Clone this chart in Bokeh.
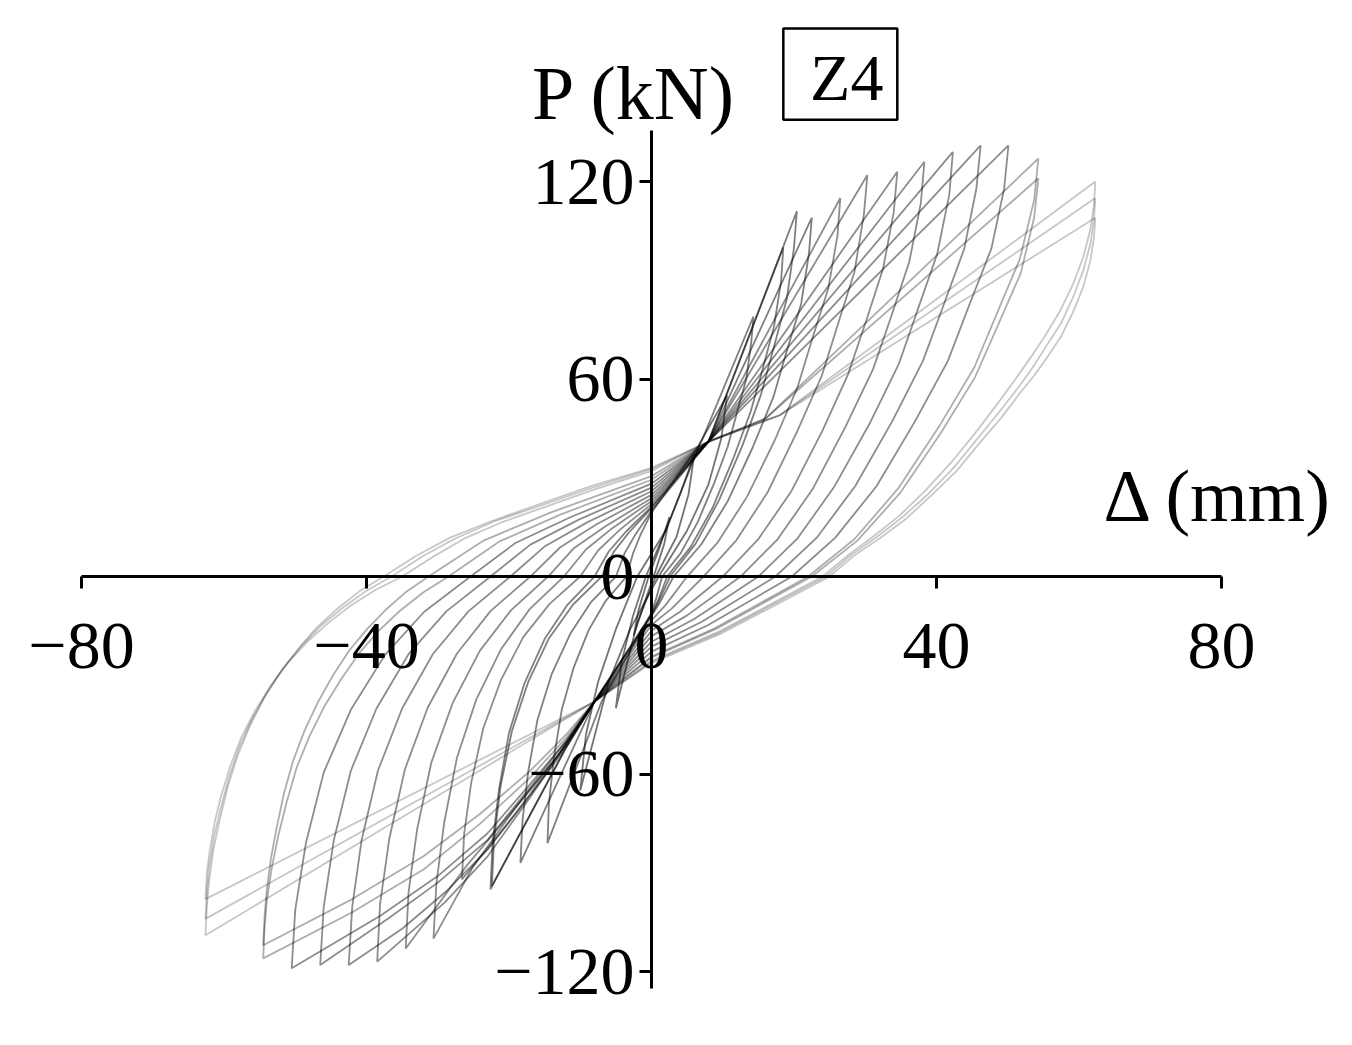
from bokeh.plotting import figure
from bokeh.models import FixedTicker, Label, BoxAnnotation, Range1d, ColumnDataSource
from bokeh.embed import file_html
from bokeh.resources import INLINE

# ---------------- data: hysteresis loops, displacement (mm) / load (kN) ----------------
loop_01_x = [2.5, 1.8, 0.3, -1.0, -2.5, -1.8, -0.4, 1.0, 2.5]
loop_01_p = [18, 10, 0, -8, -18, -10, 0, 8, 18]
loop_02_x = [6.0, 5.2, 3.5, 0.6, -2.0, -5.0, -4.2, -2.6, -0.8, 2.0, 4.0, 6.0]
loop_02_p = [37, 25, 12, 0, -14, -40, -26, -12, 0, 14, 25, 37]
loop_03_x = [10.6, 9.8, 8.0, 5.0, 1.0, -3.0, -6.0, -10.0, -9.2, -7.5, -5.0, -2.0, 2.0, 6.9, 10.6]
loop_03_p = [55, 42, 28, 14, 0, -16, -32, -65, -48, -32, -16, 0, 14, 41, 55]
loop_04_x = [14.3, 14.0, 13.3, 12.0, 10.7, 8.8, 6.5, 4.1, 1.5, 0.6, 0, -7, -14.6, -14.4, -13.7, -12.6, -10.9, -8.8, -6.4, -3.5, -2.6, -1.6, 0, 7, 14.3]
loop_04_p = [79, 71.1, 60.0, 49.8, 39.5, 28.4, 16.6, 7.1, 0, -7.1, -11, -38, -81, -68.9, -55.1, -40.5, -27.5, -16.2, -7.3, 0, 7.0, 12.4, 19.4, 41, 79]
loop_05_x = [18.5, 18.2, 17.2, 15.6, 13.9, 11.5, 8.6, 5.5, 2.2, 0.9, 0, -8, -18.4, -18.1, -17.3, -16.0, -14.0, -11.4, -8.5, -5.0, -3.75, -2.25, 0, 8, 18.5]
loop_05_p = [100, 90, 76, 63, 50, 36, 21, 9, 0, -7.4, -11.4, -38, -87, -74, -59.2, -43.5, -29.6, -17.4, -7.8, 0, 7.2, 12.8, 20, 41, 100]
loop_06_x = [20.4, 20.0, 19.0, 17.2, 15.4, 12.8, 9.5, 6.2, 2.6, 1.0, 0, -8, -12, -22.4, -22.1, -21.2, -19.6, -17.3, -14.4, -11.0, -7.0, -5.3, -3.2, 0, 8, 20.4]
loop_06_p = [111, 99.9, 84.4, 69.9, 55.5, 40.0, 23.3, 10.0, 0, -7.6, -11.7, -38, -52, -94, -79.9, -63.9, -47, -32, -18.8, -8.5, 0, 7.5, 13.3, 20.8, 41, 111]
loop_07_x = [22.5, 22.1, 21.0, 19.0, 17.1, 14.2, 10.7, 7.0, 3.1, 1.2, 0, -8, -12, -22.6, -22.3, -21.4, -20.0, -17.8, -15.0, -11.8, -8.0, -6.0, -3.6, 0, 8, 22.5]
loop_07_p = [109, 98.1, 82.8, 68.7, 54.5, 39.2, 22.9, 9.8, 0, -7.8, -12, -38, -52, -95, -80.8, -64.6, -47.5, -32.3, -19, -8.6, 0, 7.6, 13.6, 21.2, 41, 109]
loop_08_x = [26.5, 26.1, 24.8, 22.6, 20.5, 17.3, 13.4, 9.3, 5.0, 2.0, 0, -8, -13, -19, -26.6, -26.3, -25.3, -23.6, -21.1, -18.0, -14.3, -10.0, -7.5, -4.5, 0, 8, 26.5]
loop_08_p = [115, 103.5, 87.4, 72.5, 57.5, 41.4, 24.2, 10.4, 0, -8.6, -13.3, -38, -55, -72, -92, -78.2, -62.6, -46, -31.3, -18.4, -8.3, 0, 7.9, 14.1, 22, 41, 115]
loop_09_x = [30.3, 29.8, 28.5, 26.2, 23.9, 20.4, 16.3, 11.9, 7.3, 2.9, 0, -8, -13, -19, -25, -30.6, -30.2, -29.1, -27.3, -24.6, -21.1, -17.1, -12.3, -9.2, -5.5, 0, 8, 30.3]
loop_09_p = [122, 109.8, 92.7, 76.9, 61, 43.9, 25.6, 11.0, 0, -9.6, -14.7, -38, -54, -70, -88, -110, -93.5, -74.8, -55, -37.4, -22, -9.9, 0, 8.2, 14.7, 22.9, 41, 122]
loop_10_x = [34.5, 34.0, 32.5, 30.1, 27.6, 24.0, 19.6, 14.9, 10.0, 4.0, 0, -8, -13, -19, -26, -34.5, -34.1, -32.9, -30.9, -27.9, -24.1, -19.7, -14.5, -10.9, -6.5, 0, 8, 34.5]
loop_10_p = [123, 110.7, 93.5, 77.5, 61.5, 44.3, 25.8, 11.1, 0, -10.7, -16.5, -38, -54, -70, -88, -113, -96, -76.8, -56.5, -38.4, -22.6, -10.2, 0, 8.6, 15.2, 23.8, 41, 123]
loop_11_x = [38.3, 37.8, 36.2, 33.7, 31.1, 27.2, 22.6, 17.7, 12.5, 5.0, 0, -8, -12, -17, -23, -29, -38.5, -38.1, -36.8, -34.6, -31.4, -27.3, -22.6, -17.0, -12.8, -7.7, 0, 8, 38.3]
loop_11_p = [126, 113.4, 95.8, 79.4, 63, 45.4, 26.5, 11.3, 0, -11.8, -18.1, -38, -51, -67, -85, -99, -117, -99.5, -79.6, -58.5, -39.8, -23.4, -10.5, 0, 8.9, 15.9, 24.8, 41, 126]
loop_12_x = [42.3, 41.8, 40.1, 37.4, 34.7, 30.6, 25.6, 20.5, 15.0, 6.0, 0, -8, -12, -17, -23, -29, -35, -42.5, -42.0, -40.7, -38.4, -35.0, -30.7, -25.7, -19.8, -14.9, -8.9, 0, 8, 42.3]
loop_12_p = [129, 116.1, 98.0, 81.3, 64.5, 46.4, 27.1, 11.6, 0, -12.9, -19.8, -38, -51, -66, -83, -96, -107, -118, -100.3, -80.2, -59, -40.1, -23.6, -10.6, 0, 9.3, 16.6, 25.9, 41, 129]
loop_13_x = [46.2, 45.6, 43.9, 41.0, 38.1, 33.8, 28.6, 23.2, 17.4, 7.0, 0, -8, -12, -17, -23, -30, -37, -46.5, -46.0, -44.6, -42.2, -38.6, -34.1, -28.8, -22.6, -17.0, -10.2, 0, 8, 46.2]
loop_13_p = [131, 117.9, 99.6, 82.5, 65.5, 47.2, 27.5, 11.8, 0, -13.8, -21.3, -38, -50, -64, -80, -93, -104, -118, -100.3, -80.2, -59, -40.1, -23.6, -10.6, 0, 9.7, 17.3, 27, 41, 131]
loop_14_x = [50.1, 49.5, 47.7, 44.6, 41.6, 37.0, 31.6, 25.8, 19.7, 7.9, 0, -8, -12, -17, -23, -30, -38, -50.5, -50.0, -48.5, -46.0, -42.2, -37.4, -31.9, -25.4, -19.1, -11.4, 0, 8, 50.1]
loop_14_p = [131, 117.9, 99.6, 82.5, 65.5, 47.2, 27.5, 11.8, 0, -14.8, -22.8, -38, -50, -63, -78, -91, -103, -119, -101.2, -80.9, -59.5, -40.5, -23.8, -10.7, 0, 10.2, 18, 28.2, 41, 131]
loop_15_x = [54.3, 53.7, 51.7, 48.5, 45.3, 40.4, 34.6, 28.5, 22.0, 8.8, 0, -8, -12, -17, -24, -32, -42, -54.5, -54.3, -54.0, -53.3, -52.4, -51.2, -49.8, -48.0, -45.9, -43.5, -41.0, -38.3, -35.3, -32.0, -28.5, -21.4, -12.8, 0, 8, 16, 54.3]
loop_15_p = [127, 114.3, 96.5, 80, 63.5, 45.7, 26.7, 11.4, 0, -15.8, -24.3, -38, -49, -61, -75, -89, -102, -116, -106.5, -98.6, -88.5, -78.9, -68.5, -58, -48.5, -39.4, -31, -23.2, -16.5, -10.4, -4.8, 0, 10.6, 18.8, 29.4, 41, 48, 127]
loop_16_x = [54.3, 53.7, 51.8, 48.6, 45.4, 40.6, 34.9, 28.9, 22.5, 9.0, 0, -8, -12, -17, -24, -32, -42, -54.5, -54.3, -54.0, -53.4, -52.6, -51.6, -50.3, -48.7, -46.8, -44.7, -42.4, -39.9, -37.3, -34.4, -31.3, -23.5, -14.1, 0, 8, 16, 54.3]
loop_16_p = [121, 108.9, 92, 76.2, 60.5, 43.6, 25.4, 10.9, 0, -16, -24.6, -38, -48, -59, -72, -85, -98, -112, -103, -95.2, -85.5, -76.2, -66, -56, -46.8, -38.1, -30, -22.4, -15.9, -10.1, -4.6, 0, 11, 19.5, 30.5, 41, 48, 121]
loop_17_x = [62.3, 62.1, 61.6, 60.6, 59.1, 57.3, 55.2, 53.2, 51.1, 48.4, 45.4, 42.0, 38.4, 34.8, 31.2, 27.6, 24.0, 9.6, 0, -8, -62.6, -62.4, -62.0, -61.3, -60.4, -59.1, -57.6, -55.7, -53.5, -51.0, -48.2, -45.3, -42.2, -38.7, -35.0, -30.5, -26.3, -21.0, -15.8, -8.0, 0, 8, 18, 62.3]
loop_17_p = [120, 113, 105.5, 97, 88.5, 80.5, 73, 66.5, 60, 52, 43.5, 34.5, 26, 18.5, 12.3, 6.5, 0, -16.6, -25.6, -38, -98, -90, -83.3, -74.5, -66.6, -57.5, -49, -41, -33.3, -26, -19.6, -14, -8.8, -4, 0, 6.2, 11.5, 16.5, 20.5, 26.5, 32, 41, 49, 120]
loop_18_x = [62.3, 62.1, 61.6, 60.6, 59.2, 57.5, 55.4, 53.5, 51.5, 48.8, 45.8, 42.4, 38.8, 35.2, 31.6, 28.0, 24.5, 9.8, 0, -8, -62.6, -62.4, -62.1, -61.4, -60.5, -59.3, -57.9, -56.1, -54.0, -51.6, -49.0, -46.3, -43.3, -40.0, -36.5, -32.0, -27.4, -22.0, -16.4, -8.3, 0, 8, 18, 62.3]
loop_18_p = [115, 108.5, 101, 93, 85, 77, 70, 63.5, 57.5, 50, 42, 33, 25, 18, 12, 6.5, 0, -16.8, -25.9, -38, -104, -95.5, -88.4, -79, -70.7, -61, -52, -43.5, -35.4, -27.7, -20.8, -14.8, -9.4, -4.3, 0, 6.3, 11.7, 16.8, 20.9, 27, 32.6, 41, 49, 115]
loop_19_x = [62.3, 62.1, 61.6, 60.6, 59.2, 57.5, 55.5, 53.7, 51.8, 49.2, 46.2, 42.8, 39.2, 35.7, 32.1, 28.5, 25.0, 10.0, 0, -8, -62.6, -62.4, -62.1, -61.5, -60.6, -59.5, -58.1, -56.4, -54.4, -52.1, -49.6, -47.0, -44.1, -41.0, -37.6, -33.0, -28.2, -22.5, -16.9, -8.5, 0, 8, 18, 62.3]
loop_19_p = [109, 103, 96, 88, 80.5, 73, 66.5, 61, 56, 48.5, 41, 32, 24.5, 17.5, 11.7, 6.5, 0, -17.1, -26.3, -38, -109, -100, -92.7, -83, -74, -64, -54.5, -45.5, -37, -29, -22, -15.5, -9.8, -4.5, 0, 6.3, 11.9, 16.8, 21.1, 27.5, 33, 41, 49, 109]

x_ticks = [-80, -40, 0, 40, 80]
x_tick_labels = ["\u221280", "\u221240", "0", "40", "80"]
y_ticks = [-120, -60, 0, 60, 120]
y_tick_labels = ["\u2212120", "\u221260", "0", "60", "120"]
x_axis_title = "\u0394 (mm)"
y_axis_title = "P (kN)"
specimen = "Z4"

loops_x = [loop_01_x, loop_02_x, loop_03_x, loop_04_x, loop_05_x, loop_06_x, loop_07_x,
           loop_08_x, loop_09_x, loop_10_x, loop_11_x, loop_12_x, loop_13_x, loop_14_x,
           loop_15_x, loop_16_x, loop_17_x, loop_18_x, loop_19_x]
loops_p = [loop_01_p, loop_02_p, loop_03_p, loop_04_p, loop_05_p, loop_06_p, loop_07_p,
           loop_08_p, loop_09_p, loop_10_p, loop_11_p, loop_12_p, loop_13_p, loop_14_p,
           loop_15_p, loop_16_p, loop_17_p, loop_18_p, loop_19_p]

# line shade per loop (style only)
alphas = []
for i in range(len(loops_x)):
    if i < 3:
        alphas.append(0.55)
    elif i < 7:
        alphas.append(0.5)
    elif i < 14:
        alphas.append(0.45)
    elif i < 16:
        alphas.append(0.32)
    else:
        alphas.append(0.22)

src = ColumnDataSource(dict(xs=loops_x, ys=loops_p, alpha=alphas))

W, H = 1332, 1025
p = figure(width=W, height=H,
           x_range=Range1d(-91.37, 95.58), y_range=Range1d(-136.40, 175.0),
           output_backend="svg", toolbar_location=None, min_border=0)
p.outline_line_color = None
p.grid.visible = False
p.background_fill_color = "white"

p.multi_line("xs", "ys", source=src, line_color="black", line_alpha="alpha", line_width=1.8)

FONT = "Liberation Serif"
for ax, ticks, labels, bounds in ((p.xaxis[0], x_ticks, x_tick_labels, (-80, 80)),
                                  (p.yaxis[0], y_ticks, y_tick_labels, (-125.2, 135.5))):
    ax.fixed_location = 0
    ax.bounds = bounds
    ax.ticker = FixedTicker(ticks=ticks)
    ax.major_label_overrides = {t: l for t, l in zip(ticks, labels)}
    ax.axis_line_width = 3
    ax.axis_line_color = "black"
    ax.major_tick_line_width = 3
    ax.major_tick_line_color = "black"
    ax.major_tick_in = 0
    ax.major_tick_out = 12
    ax.minor_tick_line_color = None
    ax.major_label_text_font = FONT
    ax.major_label_text_font_size = "68px"
    ax.major_label_text_color = "black"
p.xaxis[0].major_label_standoff = 35
p.yaxis[0].major_label_standoff = 5

p.add_layout(Label(x=-2.4, y=146.9, text=y_axis_title, text_font=FONT, text_font_size="76px",
                   text_align="center", text_baseline="alphabetic", text_color="black"))
p.add_layout(Label(x=79.6, y=24.5, text=x_axis_title, text_font=FONT, text_font_size="74px",
                   text_align="center", text_baseline="alphabetic", text_color="black"))
p.add_layout(BoxAnnotation(left=18.5, right=34.5, top=166.5, bottom=138.8,
                           fill_color=None, fill_alpha=0, line_color="black", line_alpha=1.0,
                           line_width=2.5))
p.add_layout(Label(x=27.4, y=151.5, text=specimen, text_font=FONT, text_font_size="66px",
                   text_align="center", text_baseline="alphabetic", text_color="black"))

open("out.html", "w").write(file_html(p, INLINE))
